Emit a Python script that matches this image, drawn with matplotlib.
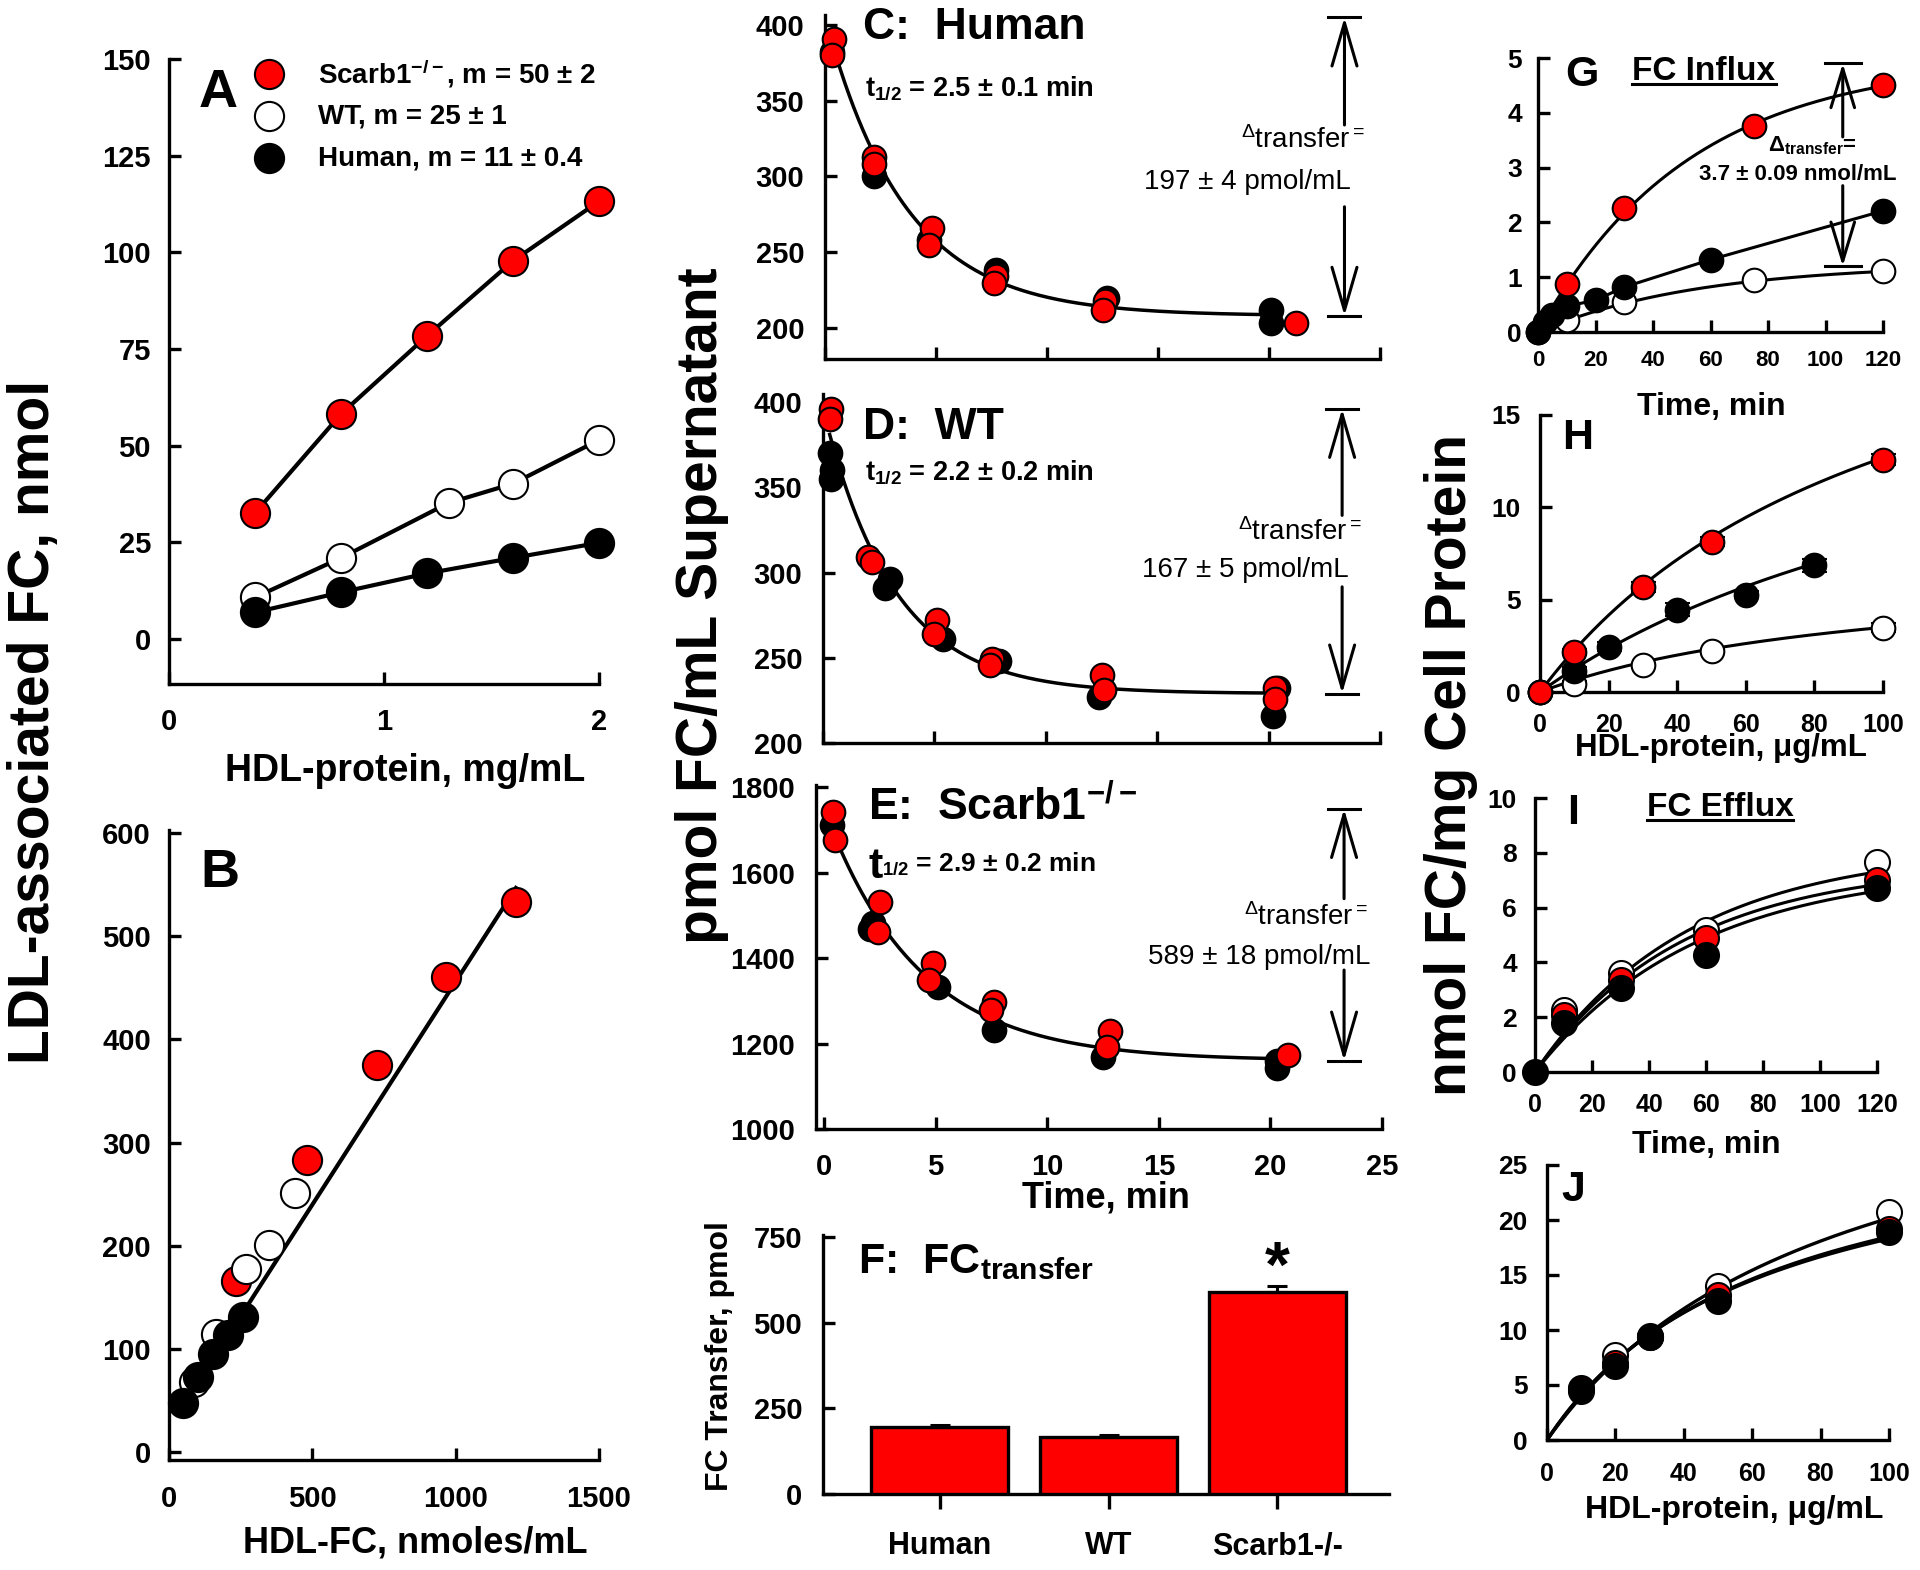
import numpy as np
import matplotlib
matplotlib.use('Agg')
import matplotlib.pyplot as plt
from matplotlib.lines import Line2D

W, H = 1920, 1570
plt.rcParams['font.family'] = ['Liberation Sans', 'DejaVu Sans']
plt.rcParams['font.weight'] = 'bold'
plt.rcParams['axes.linewidth'] = 2.4
plt.rcParams['mathtext.fontset'] = 'custom'
plt.rcParams['mathtext.rm'] = 'Liberation Sans:bold'
plt.rcParams['mathtext.it'] = 'Liberation Sans:bold'
plt.rcParams['mathtext.bf'] = 'Liberation Sans:bold'

RED = '#ff0000'

# ---------------- data ----------------
# Panel A
A_x = [0.4, 0.8, 1.2, 1.6, 2.0]
A_scarb = [32.6, 58.2, 78.4, 97.8, 113.2]
A_wt_x = [0.4, 0.8, 1.3, 1.6, 2.0]
A_wt = [10.8, 21.0, 35.2, 40.2, 51.5]
A_human = [6.9, 12.1, 17.0, 21.0, 24.9]
A_labels = [r'Scarb1$^{\mathdefault{-/-}}$, m = 50 ± 2', 'WT, m = 25 ± 1', 'Human, m = 11 ± 0.4']
A_xticks = [0, 1, 2]
A_yticks = [0, 25, 50, 75, 100, 125, 150]

# Panel B
B_scarb_x = [235, 480, 727, 967, 1209]
B_scarb_y = [166, 283, 375, 461, 533]
B_wt_x = [86, 164, 268, 349, 438]
B_wt_y = [68, 115, 178, 201, 251]
B_human_x = [50, 100, 152, 207, 257]
B_human_y = [48, 73, 95, 114, 131]
B_fit_slope, B_fit_intercept = 0.432, 24
B_fit_xrange = [50, 1210]
B_xticks = [0, 500, 1000, 1500]
B_yticks = [0, 100, 200, 300, 400, 500, 600]

# Panels C-E (time courses)
CDE_xticks = [0, 5, 10, 15, 20, 25]
C_red_t = [0.4, 0.3, 2.2, 2.2, 4.8, 4.7, 7.7, 7.6, 12.6, 12.5, 21.2]
C_red_y = [391, 380, 313, 308, 266, 255, 234, 230, 218, 212, 203]
C_black_t = [0.3, 2.2, 4.7, 7.7, 12.7, 20.1, 20.1]
C_black_y = [382, 300, 258, 238, 220, 212, 203]
C_plateau, C_delta, C_thalf = 208, 197, 2.5
C_yticks = [200, 250, 300, 350, 400]

D_red_t = [0.35, 0.3, 2.0, 2.2, 5.1, 5.0, 7.6, 7.5, 12.5, 12.6, 20.3, 20.3]
D_red_y = [396, 390, 309, 306, 272, 264, 249, 246, 240, 231, 232, 226]
D_black_t = [0.3, 0.4, 0.35, 3.0, 2.8, 5.4, 7.9, 12.4, 20.4, 20.2]
D_black_y = [370, 360, 355, 296, 291, 261, 248, 227, 232, 216]
D_plateau, D_delta, D_thalf = 229, 167, 2.2
D_yticks = [200, 250, 300, 350, 400]

E_red_t = [0.4, 0.5, 2.5, 2.4, 4.9, 4.7, 7.6, 7.5, 12.8, 12.7, 20.8]
E_red_y = [1742, 1677, 1531, 1460, 1388, 1349, 1298, 1279, 1230, 1193, 1172]
E_black_t = [0.35, 2.2, 2.05, 5.1, 7.6, 12.5, 20.3, 20.3]
E_black_y = [1711, 1481, 1469, 1333, 1232, 1168, 1142, 1158]
E_plateau, E_delta, E_thalf = 1160, 589, 2.9
E_yticks = [1000, 1200, 1400, 1600, 1800]

# Panel F
F_groups = ['Human', 'WT', 'Scarb1-/-']
F_values = [197, 167, 589]
F_errors = [4, 5, 18]
F_yticks = [0, 250, 500, 750]

# Panel G (FC influx)
G_red_t = [0, 10, 30, 75, 120]
G_red_y = [0, 0.88, 2.27, 3.75, 4.5]
G_black_t = [0, 2.5, 5, 10, 20, 30, 60, 120]
G_black_y = [0, 0.18, 0.31, 0.47, 0.58, 0.82, 1.32, 2.21]
G_white_t = [0, 10, 30, 75, 120]
G_white_y = [0, 0.21, 0.55, 0.95, 1.11]
G_fit_red = (5.0, 0.019)
G_fit_white = (1.25, 0.018)
G_delta_lo, G_delta = 1.2, 3.7
G_xticks = [0, 20, 40, 60, 80, 100, 120]
G_yticks = [0, 1, 2, 3, 4, 5]

# Panel H
H_red_x = [0, 10, 30, 50, 100]
H_red_y = [0, 2.18, 5.69, 8.13, 12.58]
H_red_err = [0, 0.15, 0.25, 0.25, 0.3]
H_black_x = [0, 10, 20, 40, 60, 80]
H_black_y = [0, 1.15, 2.45, 4.45, 5.27, 6.87]
H_black_err = [0, 0.2, 0.25, 0.35, 0.2, 0.35]
H_white_x = [0, 10, 30, 50, 100]
H_white_y = [0, 0.45, 1.45, 2.24, 3.49]
H_white_err = [0, 0.15, 0.1, 0.1, 0.25]
H_fit_red = (26, 105)
H_fit_black = (20, 150)
H_fit_white = (7, 100)
H_xticks = [0, 20, 40, 60, 80, 100]
H_yticks = [0, 5, 10, 15]

# Panel I (FC efflux)
I_t = [0, 10, 30, 60, 120]
I_white = [0, 2.27, 3.61, 5.19, 7.65]
I_red = [0, 2.09, 3.37, 4.89, 7.02]
I_black = [0, 1.79, 3.07, 4.28, 6.72]
I_fit_white = (8.18, 0.0186)
I_fit_red = (7.61, 0.0191)
I_fit_black = (7.51, 0.0176)
I_xticks = [0, 20, 40, 60, 80, 100, 120]
I_yticks = [0, 2, 4, 6, 8, 10]

# Panel J
J_x = [10, 20, 30, 50, 100]
J_white = [4.7, 7.73, 9.5, 14.0, 20.76]
J_red = [4.6, 7.0, 9.4, 13.2, 19.2]
J_black = [4.48, 6.73, 9.39, 12.67, 18.94]
J_fit_white = (37.3, 85)
J_fit_red = (30.5, 65)
J_fit_black = (29.8, 63)
J_xticks = [0, 20, 40, 60, 80, 100]
J_yticks = [0, 5, 10, 15, 20, 25]

# ---------------- helpers ----------------
fig = plt.figure(figsize=(W / 100, H / 100), dpi=100)


def add_ax(l, t, r, b):
    ax = fig.add_axes([l / W, 1 - b / H, (r - l) / W, (b - t) / H])
    ax.patch.set_alpha(0)
    for s in ['top', 'right']:
        ax.spines[s].set_visible(False)
    return ax


def style(ax, xsize, ysize, xpad, ypad, xdir='in', xlen=8.5, ylen=8.5):
    ax.tick_params(axis='x', direction=xdir, length=xlen, width=2.4, labelsize=xsize, pad=xpad)
    ax.tick_params(axis='y', direction='in', length=ylen, width=2.4, labelsize=ysize, pad=ypad)


def ftext(x, y, s, **kw):
    return fig.text(x / W, 1 - y / H, s, **kw)


def expdecay(t, plateau, delta, thalf):
    return plateau + delta * np.exp(-np.log(2) * t / thalf)


def exprise(t, a, k):
    return a * (1 - np.exp(-k * t))


def hyper(x, v, k):
    return v * x / (k + x)


def delta_arrow(ax, x, top, bottom, up_end, down_start, half_w, lw=2.2,
                hl=3.1, hw=0.9):
    for yy in (top, bottom):
        ax.plot([x - half_w, x + half_w], [yy, yy], color='k', lw=lw, clip_on=False)
    st = '->,head_length=%g,head_width=%g' % (hl, hw)
    ap = dict(arrowstyle=st, lw=lw, color='k', shrinkA=0, shrinkB=0, mutation_scale=10)
    ax.annotate('', xy=(x, top), xytext=(x, up_end), arrowprops=ap, annotation_clip=False)
    ax.annotate('', xy=(x, bottom), xytext=(x, down_start), arrowprops=ap, annotation_clip=False)


def mk(face, ms):
    return dict(marker='o', ms=ms, mfc=face, mec='k', mew=1.5, clip_on=False)


# ---------------- Panel A ----------------
axA = add_ax(169, 59, 599, 684)
axA.set_xlim(0, 2)
axA.set_ylim(-11.6, 150)
axA.set_xticks(A_xticks)
axA.set_yticks(A_yticks)
style(axA, 21, 21, 17, 13)
axA.plot(A_x, A_scarb, '-', color='k', lw=3, zorder=3, **mk(RED, 21))
axA.plot(A_wt_x, A_wt, '-', color='k', lw=3, zorder=4, **mk('white', 21))
axA.plot(A_x, A_human, '-', color='k', lw=3, zorder=5, **mk('k', 21))
axA.text(0.114, 0.946, 'A', transform=axA.transAxes, fontsize=39, ha='center', va='center')
for i, (face, lab) in enumerate(zip([RED, 'white', 'k'], A_labels)):
    yy = 0.976 - i * 0.0675
    axA.plot([0.233], [yy], transform=axA.transAxes, **mk(face, 21))
    axA.text(0.347, yy, lab, transform=axA.transAxes, fontsize=20, va='center', ha='left')
ftext(405, 771, 'HDL-protein, mg/mL', fontsize=27, ha='center', va='center')

# ---------------- Panel B ----------------
axB = add_ax(169, 830, 599, 1460)
axB.set_xlim(0, 1500)
axB.set_ylim(-7.3, 602.9)
axB.set_xticks(B_xticks)
axB.set_yticks(B_yticks)
style(axB, 21, 21, 18, 13)
fx = np.array(B_fit_xrange, dtype=float)
axB.plot(fx, B_fit_slope * fx + B_fit_intercept, color='k', lw=3, zorder=2)
axB.plot(B_scarb_x, B_scarb_y, ls='none', zorder=3, **mk(RED, 21))
axB.plot(B_wt_x, B_wt_y, ls='none', zorder=4, **mk('white', 21))
axB.plot(B_human_x, B_human_y, ls='none', zorder=5, **mk('k', 21))
axB.text(0.119, 0.932, 'B', transform=axB.transAxes, fontsize=39, ha='center', va='center')
ftext(415, 1543, 'HDL-FC, nmoles/mL', fontsize=26, ha='center', va='center')

ftext(34, 722, 'LDL-associated FC, nmol', fontsize=41, rotation=90, ha='center', va='center')

# ---------------- Panels C, D, E ----------------
tt = np.linspace(0.3, 20.3, 300)
panels = [
    dict(box=(825, 15, 1380, 359), ylim=(179.5, 406.6), yt=C_yticks, rt=C_red_t, ry=C_red_y,
         bt=C_black_t, by=C_black_y, p=(C_plateau, C_delta, C_thalf), xl=(0, 25),
         title='C:  Human', tpos=(0.068, 0.965), hpos=(0.072, 0.788),
         half='2.5 ± 0.1', dpos=(0.973, 0.637, 0.948, 0.515), dtxt='197 ± 4 pmol/mL',
         arr=(23.4, 334, 280)),
    dict(box=(823, 394, 1380, 743), ylim=(200, 404.7), yt=D_yticks, rt=D_red_t, ry=D_red_y,
         bt=D_black_t, by=D_black_y, p=(D_plateau, D_delta, D_thalf), xl=(0, 25),
         title='D:  WT', tpos=(0.072, 0.905), hpos=(0.075, 0.777),
         half='2.2 ± 0.2', dpos=(0.969, 0.605, 0.944, 0.496), dtxt='167 ± 5 pmol/mL',
         arr=(23.3, 333.5, 291.6)),
    dict(box=(816, 785, 1382, 1129), ylim=(1000, 1805), yt=E_yticks, rt=E_red_t, ry=E_red_y,
         bt=E_black_t, by=E_black_y, p=(E_plateau, E_delta, E_thalf), xl=(-0.36, 25),
         title=r'E:  Scarb1$^{\mathdefault{-/-}}$', tpos=(0.092, 0.936), hpos=(0.092, 0.762),
         half='2.9 ± 0.2', dpos=(0.975, 0.616, 0.979, 0.5), dtxt='589 ± 18 pmol/mL',
         arr=(23.3, 1539, 1372)),
]
for i, P in enumerate(panels):
    ax = add_ax(*P['box'])
    ax.set_xlim(*P['xl'])
    ax.set_ylim(*P['ylim'])
    ax.set_xticks(CDE_xticks)
    ax.set_yticks(P['yt'])
    style(ax, 21, 21, 17, 15)
    if i < 2:
        ax.set_xticklabels([])
    plat, dlt, th = P['p']
    ax.plot(tt, expdecay(tt, plat, dlt, th), 'k-', lw=2.5, zorder=2)
    ax.plot(P['bt'], P['by'], ls='none', zorder=3, **mk('k', 17))
    ax.plot(P['rt'], P['ry'], ls='none', zorder=4, **mk(RED, 17))
    ax.text(P['tpos'][0], P['tpos'][1], P['title'], transform=ax.transAxes, fontsize=32,
            ha='left', va='center')
    if i < 2:
        ax.text(P['hpos'][0], P['hpos'][1], r't$_{\mathdefault{1/2}}$ = ' + P['half'] + ' min',
                transform=ax.transAxes, fontsize=19.5, ha='left', va='center')
    else:
        tb = ax.text(P['hpos'][0], P['hpos'][1], 't', transform=ax.transAxes, fontsize=31,
                     ha='left', va='center')
        ax.annotate(r'$_{\mathdefault{1/2}}$ = ' + P['half'] + ' min', xy=(1.0, 0.25),
                    xycoords=tb, fontsize=19, ha='left', va='bottom')
    d = P['dpos']
    ax.text(d[0], d[1], r'$^{\mathdefault{Δ}}$transfer$^{\mathdefault{=}}$', transform=ax.transAxes,
            fontsize=20, fontweight='normal', ha='right', va='center')
    ax.text(d[2], d[3], P['dtxt'], transform=ax.transAxes, fontsize=20, fontweight='normal',
            ha='right', va='center')
    ax_x, up_end, down_start = P['arr']
    delta_arrow(ax, ax_x, plat + dlt, plat, up_end, down_start, 0.72)

ftext(1106, 1198, 'Time, min', fontsize=26, ha='center', va='center')
ftext(702, 606, 'pmol FC/mL Supernatant', fontsize=41, rotation=90, ha='center', va='center')

# ---------------- Panel F ----------------
axF = add_ax(823, 1235, 1389, 1494)
pos = np.arange(len(F_groups))
axF.bar(pos, F_values, width=0.81, color=RED, edgecolor='k', linewidth=2.4,
        yerr=[np.zeros(len(F_values)), F_errors], capsize=7,
        error_kw=dict(elinewidth=2.2, capthick=2.2, ecolor='k'), zorder=3)
axF.set_xlim(-0.69, 2.66)
axF.set_ylim(0, 756)
axF.set_xticks(pos)
axF.set_xticklabels(F_groups)
axF.set_yticks(F_yticks)
style(axF, 22, 21, 16, 15, xdir='out', xlen=11)
axF.text(0.062, 0.896, r'F:  FC$_{\mathdefault{transfer}}$', transform=axF.transAxes, fontsize=31,
         ha='left', va='center')
axF.text(2, 655, '*', fontsize=46, ha='center', va='center')
ftext(720, 1356, 'FC Transfer, pmol', fontsize=23, rotation=90, ha='center', va='center')

# ---------------- Panel G ----------------
axG = add_ax(1538, 58, 1883, 332)
axG.set_xlim(0, 120)
axG.set_ylim(0, 5)
axG.set_xticks(G_xticks)
axG.set_yticks(G_yticks)
style(axG, 16, 19, 13, 11.5)
tg = np.linspace(0, 120, 300)
axG.plot(tg, exprise(tg, *G_fit_white), 'k-', lw=2.2, zorder=2)
axG.plot(G_white_t, G_white_y, ls='none', zorder=3, **mk('white', 17))
axG.plot(G_black_t, G_black_y, 'k-', lw=2.2, zorder=4, **mk('k', 17))
axG.plot(tg, exprise(tg, *G_fit_red), 'k-', lw=2.2, zorder=5)
axG.plot(G_red_t[1:], G_red_y[1:], ls='none', zorder=6, **mk(RED, 17))
delta_arrow(axG, 106, G_delta_lo + G_delta, G_delta_lo, 3.56, 2.67, 6.3, hl=2.8, hw=0.85)
axG.text(0.128, 0.938, 'G', transform=axG.transAxes, fontsize=31, ha='center', va='center')
tG = axG.text(0.481, 0.949, 'FC Influx', transform=axG.transAxes, fontsize=24, ha='center',
              va='center')
axG.text(0.794, 0.68, r'Δ$_{\mathdefault{transfer}}$=', transform=axG.transAxes, fontsize=16,
         ha='center', va='center')
axG.text(0.754, 0.573, '3.7 ± 0.09 nmol/mL', transform=axG.transAxes, fontsize=16,
         ha='center', va='center')
ftext(1711, 407, 'Time, min', fontsize=23, ha='center', va='center')

# ---------------- Panel H ----------------
axH = add_ax(1540, 415, 1883, 692)
axH.set_xlim(0, 100)
axH.set_ylim(0, 15)
axH.set_xticks(H_xticks)
axH.set_yticks(H_yticks)
style(axH, 18, 19, 15, 14)
th = np.linspace(0, 100, 300)
tb80 = np.linspace(0, 80, 300)
axH.plot(th, hyper(th, *H_fit_white), 'k-', lw=2.2, zorder=2)
axH.plot(tb80, hyper(tb80, *H_fit_black), 'k-', lw=2.2, zorder=2)
axH.plot(th, hyper(th, *H_fit_red), 'k-', lw=2.2, zorder=2)
for xs, ys, es, face, z in [(H_white_x, H_white_y, H_white_err, 'white', 3),
                            (H_black_x, H_black_y, H_black_err, 'k', 4),
                            (H_red_x, H_red_y, H_red_err, RED, 5)]:
    axH.errorbar(xs, ys, yerr=es, fmt='none', ecolor='k', elinewidth=1.5, capsize=9,
                 capthick=1.5, zorder=z - 0.5, clip_on=False)
    axH.plot(xs, ys, ls='none', zorder=z, **mk(face, 17))
axH.text(0.111, 0.917, 'H', transform=axH.transAxes, fontsize=31, ha='center', va='center')
ftext(1721, 748, 'HDL-protein, μg/mL', fontsize=22.5, ha='center', va='center')

ftext(1451, 765, 'nmol FC/mg Cell Protein', fontsize=41, rotation=90, ha='center', va='center')

# ---------------- Panel I ----------------
axI = add_ax(1535, 798, 1877, 1072)
axI.set_xlim(0, 120)
axI.set_ylim(0, 10)
axI.set_xticks(I_xticks)
axI.set_yticks(I_yticks)
style(axI, 18, 19, 15, 13)
ti = np.linspace(0, 120, 300)
for fit in (I_fit_white, I_fit_red, I_fit_black):
    axI.plot(ti, exprise(ti, *fit), 'k-', lw=2.2, zorder=2)
axI.plot(I_t[1:], I_white[1:], ls='none', zorder=3, **mk('white', 18))
axI.plot(I_t[1:], I_red[1:], ls='none', zorder=4, **mk(RED, 18))
axI.plot(I_t, I_black, ls='none', zorder=5, **mk('k', 18))
axI.text(0.111, 0.945, 'I', transform=axI.transAxes, fontsize=31, ha='center', va='center')
tI = axI.text(0.541, 0.964, 'FC Efflux', transform=axI.transAxes, fontsize=24, ha='center',
              va='center')
ftext(1706, 1145, 'Time, min', fontsize=23, ha='center', va='center')

# ---------------- Panel J ----------------
axJ = add_ax(1547, 1165, 1889, 1440)
axJ.set_xlim(0, 100)
axJ.set_ylim(0, 25)
axJ.set_xticks(J_xticks)
axJ.set_yticks(J_yticks)
style(axJ, 18, 19, 16, 14)
tj = np.linspace(0, 100, 300)
for fit in (J_fit_white, J_fit_red, J_fit_black):
    axJ.plot(tj, hyper(tj, *fit), 'k-', lw=2.4, zorder=2)
axJ.plot(J_x, J_white, ls='none', zorder=3, **mk('white', 18))
axJ.plot(J_x, J_red, ls='none', zorder=4, **mk(RED, 18))
axJ.plot(J_x, J_black, ls='none', zorder=5, **mk('k', 18))
axJ.text(0.076, 0.909, 'J', transform=axJ.transAxes, fontsize=31, ha='center', va='center')
ftext(1734, 1510, 'HDL-protein, μg/mL', fontsize=23, ha='center', va='center')

# underline the FC Influx / FC Efflux titles
fig.canvas.draw()
rend = fig.canvas.get_renderer()
for t in (tG, tI):
    bb = t.get_window_extent(rend)
    yy = (bb.y0 + 3) / H
    fig.add_artist(Line2D([bb.x0 / W, bb.x1 / W], [yy, yy], color='k', lw=2.2))

fig.savefig('out.png', dpi=100)
